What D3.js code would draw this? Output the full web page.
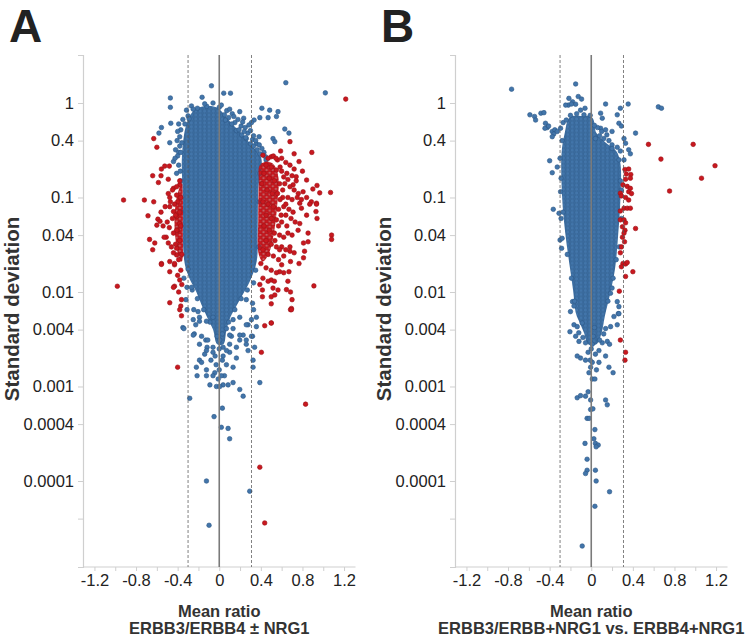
<!DOCTYPE html>
<html>
<head>
<meta charset="utf-8">
<script src="https://cdn.jsdelivr.net/npm/d3@7"></script>
<style>
  body { margin: 0; background: #fff; }
  svg { display: block; font-family: "Liberation Sans", Arial, sans-serif; }
</style>
</head>
<body>
<svg id="chart" width="746" height="637"></svg>
<script>
// ---- axis ticks ----
const xTickValues = [-1.2, -1, -0.8, -0.6, -0.4, -0.2, 0, 0.2, 0.4, 0.6, 0.8, 1, 1.2];
const xTickLabels = {"-1.2": "-1.2", "-0.8": "-0.8", "-0.4": "-0.4", "0": "0", "0.4": "0.4", "0.8": "0.8", "1.2": "1.2"};
const yTickValues = [1, 0.4, 0.1, 0.04, 0.01, 0.004, 0.001, 0.0004, 0.0001, 0.00004];
const yTickLabels = ["1", "0.4", "0.1", "0.04", "0.01", "0.004", "0.001", "0.0004", "0.0001", ""];
const cutoffs = [-0.3, 0.31];

// ---- panel A: mean ratio ERBB3/ERBB4 +- NRG1 ----
// outline of the overplotted part of each cloud, [mean, sd]
const coreBlueA = [[-0.26,0.80],[-0.19,0.90],[-0.10,0.93],[-0.03,0.90],[0.03,0.80],[0.08,0.68],[0.15,0.56],
  [0.22,0.47],[0.29,0.38],[0.36,0.31],[0.40,0.27],[0.41,0.21],[0.38,0.14],[0.37,0.045],[0.36,0.021],
  [0.30,0.0134],[0.24,0.010],[0.17,0.0073],[0.11,0.0055],[0.07,0.004],[0.04,0.0028],[-0.02,0.0028],
  [-0.06,0.004],[-0.12,0.0055],[-0.17,0.0073],[-0.22,0.010],[-0.28,0.0134],[-0.33,0.0194],[-0.35,0.0355],
  [-0.35,0.094],[-0.36,0.25],[-0.34,0.45],[-0.31,0.62]];
const coreRedA = [[0.39,0.22],[0.46,0.24],[0.53,0.22],[0.57,0.16],[0.56,0.09],[0.53,0.045],[0.48,0.026],
  [0.42,0.021],[0.38,0.025],[0.375,0.06],[0.38,0.14]];
const coreRedLeftA = [[-0.36,0.14],[-0.39,0.12],[-0.42,0.085],[-0.43,0.05],[-0.41,0.03],[-0.38,0.022],
  [-0.36,0.021],[-0.35,0.05],[-0.35,0.1]];

const blueA = [
  [-0.075,1.52],[0.043,1.27],[0.108,1.27],[0.64,1.64],[1.02,1.28],[-0.47,1.13],[-0.47,0.90],[-0.165,1.15],
  [-0.315,0.84],[-0.267,0.93],[0.072,0.83],[0.197,0.81],[0.235,0.69],[0.41,0.88],[0.485,0.84],[0.565,0.81],
  [0.55,0.72],[0.47,0.70],[0.39,0.70],[0.335,0.66],[0.31,0.62],[-0.35,0.67],[-0.39,0.60],[-0.466,0.61],
  [-0.556,0.55],[-0.58,0.48],[-0.476,0.38],[-0.405,0.40],[-0.38,0.44],[0.63,0.53],[0.67,0.48],[0.517,0.42],
  [0.534,0.39],[0.383,0.44],[0.357,0.37],[0.32,0.41],[0.26,0.42],[-0.44,0.24],[-0.42,0.32],[-0.39,0.30],
  [-0.41,0.18],[0.05,0.75],[0.09,0.70],[0.125,0.77],[0.15,0.62],[0.18,0.67],[0.21,0.57],[0.225,0.63],
  [0.25,0.55],[0.275,0.48],[0.30,0.51],[0.33,0.45],[0.35,0.40],[0.385,0.36],[0.41,0.33],[0.43,0.30],
  [0.445,0.27],[0.30,0.37],[0.255,0.43],[0.215,0.46],[0.165,0.51],[0.365,0.32],[0.45,0.25],[0.285,0.585],
  [0.14,0.72],[-0.30,0.73],[-0.33,0.60],[-0.37,0.52],[-0.40,0.50],[-0.38,0.35],[-0.40,0.275],[-0.425,0.26],
  [-0.37,0.30],[-0.39,0.22],[-0.375,0.19],[-0.21,0.88],[-0.12,0.92],[0.0,0.90],[-0.06,1.0],[-0.14,0.98],
  [0.02,0.95],[0.1,0.86],[0.06,0.66],[0.12,0.60],[0.19,0.52],[0.24,0.50],[0.33,0.35],[0.39,0.29],
  [-0.25,0.86],[-0.29,0.68],[-0.36,0.38],[-0.37,0.15],[-0.365,0.07],[0.39,0.18],[0.385,0.09],[0.38,0.03],
  // edge of the core and lower tail
  [0.33,0.0125],[0.27,0.0105],[0.21,0.0085],[0.15,0.0065],[0.09,0.0048],[-0.09,0.0048],[-0.15,0.0065],
  [-0.21,0.0085],[-0.26,0.0105],[-0.34,0.014],[-0.3,0.0175],[0.35,0.017],
  [-0.31,0.0112],[-0.267,0.0112],[-0.32,0.0083],[-0.31,0.0065],[-0.245,0.0065],[-0.204,0.0062],[-0.19,0.0054],
  [-0.226,0.0045],[-0.35,0.0042],[-0.24,0.0036],[-0.17,0.0034],[-0.13,0.0031],[-0.19,0.0028],[-0.117,0.0026],
  [0.26,0.0083],[0.32,0.0076],[0.33,0.0065],[0.357,0.0054],[0.31,0.0051],[0.277,0.0045],[0.23,0.0035],
  [0.32,0.0034],[0.197,0.0031],[0.26,0.0028],[0.165,0.0026],[0.117,0.0034],[0.037,0.0026],[0.069,0.0041],
  [0.133,0.0041],[-0.34,0.0041],[-0.25,0.0051],[-0.19,0.0049],[-0.123,0.0049],[-0.06,0.0054],[0.133,0.0051],
  [0.197,0.0054],[0.26,0.0045],[0.357,0.0043],[-0.25,0.0035],[-0.11,0.0031],[-0.06,0.0026],[-0.123,0.0024],
  [0.005,0.0031],[0.10,0.0035],[0.10,0.0028],[0.197,0.0035],[0.26,0.0031],[0.277,0.0024],[0.34,0.0026],
  [0.31,0.0034],[-0.14,0.0022],[-0.06,0.0023],[0.037,0.0021],[0.10,0.0023],[0.165,0.0020],[-0.19,0.0019],
  [-0.17,0.0018],[-0.22,0.0016],[-0.123,0.0015],[-0.043,0.0014],[0.069,0.0017],[0.133,0.0016],[0.325,0.0019],
  [0.325,0.0016],[0.39,0.0011],[-0.01,0.0012],[-0.06,0.0013],[-0.09,0.00104],[0.037,0.00104],[0.085,0.00104],
  [0.133,0.0011],[0.197,0.00093],[0.23,0.00079],[-0.027,0.0010],[0.005,0.0010],[-0.213,0.0013],[-0.123,0.0013],
  [0.0,0.0025],[0.03,0.0019],[-0.03,0.0017],[0.0,0.0015],[0.05,0.0013],[-0.08,0.0019],[0.07,0.0024],
  [-0.02,0.0034],[0.03,0.0036],[-0.04,0.0021],[0.02,0.0013],
  [-0.284,0.00075],[0.03,0.00059],[-0.05,0.00048],[0.02,0.00037],[0.085,0.00036],[0.10,0.00028],
  [-0.123,0.0001],[0.293,0.000078],[-0.098,0.000034]
];

const redA = [
  [1.216,1.10],[-0.63,0.42],[-0.60,0.34],[0.68,0.39],[0.59,0.31],[0.72,0.29],[0.89,0.30],[0.50,0.27],
  [-0.556,0.20],[-0.524,0.215],[-0.48,0.215],[-0.56,0.17],[-0.64,0.17],[-0.585,0.144],[-0.49,0.156],
  [-0.92,0.094],[-0.72,0.094],[-0.63,0.090],[-0.44,0.125],[-0.41,0.106],[-0.476,0.10],[-0.38,0.136],
  [1.07,0.113],[0.94,0.134],[0.90,0.123],[0.966,0.112],[0.806,0.115],[0.84,0.10],[0.886,0.09],[0.935,0.087],
  [0.774,0.087],[0.767,0.24],[0.80,0.19],[0.74,0.166],[0.84,0.153],[0.71,0.136],
  [0.935,0.085],[0.93,0.071],[0.94,0.060],[0.87,0.085],[0.79,0.077],[0.84,0.065],[0.774,0.053],[0.758,0.045],
  [0.854,0.042],[0.81,0.033],[0.854,0.034],[0.82,0.027],[0.81,0.023],[0.767,0.020],[0.68,0.027],[0.685,0.021],
  [0.60,0.0194],[0.58,0.0164],[0.67,0.0164],[0.50,0.0134],[0.517,0.011],[0.565,0.0105],[0.646,0.0106],
  [0.685,0.010],[0.50,0.0089],[0.534,0.0093],[0.415,0.0105],[0.415,0.0089],[0.70,0.0083],[0.694,0.0067],
  [0.685,0.0065],[0.50,0.0075],[0.50,0.0047],[0.437,0.0044],[0.91,0.0116],[1.08,0.040],[1.08,0.036],
  [-0.685,0.064],[-0.59,0.059],[-0.57,0.056],[-0.60,0.051],[-0.67,0.036],[-0.62,0.033],[-0.64,0.028],
  [-0.556,0.020],[-0.476,0.021],[-0.476,0.0164],[-0.43,0.0194],[-0.41,0.0247],[-0.43,0.0115],[-0.38,0.0134],
  [-0.39,0.010],[-0.363,0.0083],[-0.37,0.0071],[-0.38,0.0065],[-0.363,0.0056],[-0.476,0.0077],[-0.98,0.0115],
  [-0.51,0.038],[-0.49,0.033],[-0.46,0.030],[-0.44,0.026],[-0.41,0.029],[-0.476,0.08],[-0.44,0.071],
  [-0.41,0.063],[-0.40,0.045],[-0.38,0.053],[-0.53,0.038],[-0.556,0.0196],[-0.44,0.0112],
  [0.50,0.0047],[0.405,0.0023],[-0.40,0.0016],[0.83,0.00065],[0.39,0.00014],[0.437,0.000036],[0.694,0.0065],
  // right cluster
  [0.42,0.28],[0.47,0.26],[0.52,0.275],[0.56,0.25],[0.60,0.26],[0.64,0.235],[0.68,0.22],[0.72,0.20],
  [0.45,0.22],[0.50,0.21],[0.55,0.195],[0.60,0.19],[0.65,0.18],[0.70,0.17],[0.74,0.15],[0.43,0.18],
  [0.48,0.16],[0.53,0.15],[0.58,0.14],[0.63,0.14],[0.68,0.13],[0.72,0.12],[0.76,0.11],[0.41,0.14],
  [0.46,0.12],[0.51,0.11],[0.56,0.11],[0.61,0.10],[0.66,0.10],[0.70,0.095],[0.75,0.10],[0.79,0.095],
  [0.42,0.09],[0.47,0.085],[0.52,0.08],[0.57,0.075],[0.62,0.08],[0.67,0.075],[0.71,0.07],[0.45,0.065],
  [0.50,0.06],[0.55,0.058],[0.60,0.055],[0.65,0.05],[0.69,0.06],[0.73,0.055],[0.43,0.05],[0.48,0.045],
  [0.53,0.042],[0.58,0.04],[0.62,0.038],[0.66,0.042],[0.70,0.04],[0.45,0.035],[0.50,0.032],[0.55,0.03],
  [0.60,0.03],[0.64,0.028],[0.68,0.03],[0.42,0.028],[0.47,0.025],[0.52,0.024],[0.57,0.022],[0.62,0.024],
  [0.72,0.026],[0.40,0.020],[0.45,0.018],[0.50,0.017],[0.55,0.016],[0.42,0.014],[0.47,0.013],[0.53,0.013],
  [0.62,0.016],[0.66,0.013],[0.39,0.012],[0.585,0.21],[0.62,0.165],[0.61,0.12],[0.64,0.085],[0.585,0.095],
  [0.595,0.065],[0.57,0.05],[0.64,0.065],[0.66,0.155],[0.545,0.26],[0.58,0.028],[0.535,0.035],
  // left strip
  [-0.38,0.15],[-0.41,0.13],[-0.45,0.12],[-0.49,0.11],[-0.37,0.10],[-0.40,0.09],[-0.43,0.085],[-0.47,0.09],
  [-0.52,0.08],[-0.56,0.07],[-0.38,0.07],[-0.42,0.065],[-0.45,0.06],[-0.50,0.055],[-0.54,0.05],[-0.37,0.05],
  [-0.41,0.045],[-0.44,0.042],[-0.48,0.048],[-0.38,0.035],[-0.42,0.032],[-0.36,0.025],[-0.39,0.022],
  [-0.43,0.020],[-0.37,0.017],[-0.40,0.015],[-0.36,0.012]
];

// ---- panel B: ERBB3/ERBB+NRG1 vs. ERBB4+NRG1 ----
const coreBlueB = [[-0.21,0.70],[-0.10,0.73],[0.01,0.70],[0.05,0.48],[0.14,0.38],[0.24,0.31],[0.28,0.23],
  [0.28,0.094],[0.26,0.042],[0.23,0.018],[0.19,0.0105],[0.13,0.0055],[0.10,0.0037],[0.05,0.0028],
  [-0.03,0.0028],[-0.07,0.0037],[-0.11,0.0047],[-0.145,0.0058],[-0.175,0.0105],[-0.205,0.018],[-0.25,0.042],
  [-0.28,0.10],[-0.285,0.30],[-0.255,0.48]];

const blueB = [
  [-0.766,1.40],[-0.59,0.75],[-0.545,0.72],[-0.535,0.66],[-0.484,0.78],[-0.455,0.79],[-0.44,0.61],[-0.423,0.55],
  [-0.445,0.54],[-0.41,0.57],[-0.375,0.50],[-0.35,0.52],[-0.36,0.47],[-0.327,0.50],[-0.375,0.44],[-0.295,0.54],
  [-0.15,1.59],[-0.215,1.12],[-0.18,1.03],[-0.22,0.95],[-0.125,1.17],[-0.093,1.10],[-0.15,0.97],[-0.19,0.975],
  [-0.246,0.95],[-0.06,0.88],[-0.103,0.84],[0.138,0.975],[0.355,0.975],[0.28,0.88],[0.645,0.91],[0.675,0.88],
  [0.09,0.78],[0.106,0.69],[0.25,0.75],[0.266,0.61],[0.29,0.57],[0.09,0.54],[0.138,0.52],[0.20,0.50],
  [0.426,0.48],[0.36,0.32],[0.376,0.29],[0.315,0.42],[0.33,0.375],[0.315,0.25],[0.266,0.25],
  [-0.40,0.245],[-0.375,0.183],[-0.327,0.21],[-0.365,0.075],[-0.31,0.068],[-0.295,0.115],[-0.30,0.0355],
  [-0.285,0.029],[-0.28,0.037],[-0.18,0.0079],[-0.166,0.0071],[-0.20,0.0062],[0.20,0.011],[0.185,0.0097],
  [0.25,0.0079],[0.26,0.0059],[0.266,0.0070],
  [0.08,0.45],[0.12,0.42],[0.17,0.40],[0.20,0.36],[0.25,0.34],[0.28,0.31],[0.10,0.50],[0.06,0.55],[0.15,0.46],
  [-0.27,0.62],[-0.24,0.66],[-0.28,0.40],[-0.30,0.26],[-0.29,0.16],[-0.29,0.06],[0.29,0.06],[0.28,0.15],
  [-0.2,0.74],[-0.14,0.77],[-0.07,0.75],[-0.01,0.74],[0.03,0.58],[0.04,0.42],[0.2,0.33],[0.29,0.12],
  [0.27,0.03],[0.24,0.022],[0.21,0.014],[0.16,0.008],[-0.16,0.008],[-0.19,0.014],[-0.23,0.025],[-0.27,0.07],
  // lower tail
  [-0.205,0.0038],[-0.166,0.0045],[-0.135,0.0043],[-0.087,0.0047],[0.138,0.0041],[0.186,0.0043],[0.25,0.0045],
  [0.266,0.0059],[0.218,0.0055],[-0.15,0.0034],[-0.118,0.0030],[-0.055,0.0029],[0.01,0.0028],[0.106,0.0029],
  [0.154,0.0030],[0.176,0.0028],[0.074,0.0024],[-0.103,0.0020],[-0.135,0.0021],[-0.055,0.0019],[0.01,0.0018],
  [0.074,0.0018],[0.138,0.0021],[0.17,0.0016],[0.21,0.0014],[-0.022,0.0014],[-0.006,0.0016],[0.01,0.0012],
  [0.035,0.0012],[-0.03,0.00088],[-0.055,0.00079],[-0.135,0.00076],[-0.103,0.00080],[-0.006,0.00072],
  [0.138,0.00072],[0.154,0.00064],[-0.006,0.00057],[0.016,0.00058],[-0.04,0.00046],[-0.02,0.00046],
  [0.035,0.00035],[0.025,0.00028],[-0.06,0.00025],[0.04,0.00025],[0.067,0.00024],[0.047,0.00023],
  [-0.04,0.00017],[0.04,0.00013],[-0.04,0.00013],[-0.055,0.00012],[0.047,0.0001],[0.176,0.000077],
  [0.035,0.000054],[-0.087,0.0000205],
  [0.0,0.0025],[0.04,0.0022],[-0.03,0.0023],[0.08,0.0031],[-0.08,0.0033],[0.02,0.0034],[-0.01,0.0019],
  [0.05,0.0015],[0.12,0.0036],[-0.12,0.0037],[0.03,0.0042]
];

const redB = [
  [0.55,0.365],[0.98,0.365],[0.67,0.255],[1.19,0.217],[1.06,0.16],[0.753,0.117],
  [0.324,0.198],[0.36,0.20],[0.337,0.177],[0.38,0.175],[0.376,0.16],[0.33,0.156],[0.305,0.136],[0.346,0.131],
  [0.376,0.125],[0.36,0.115],[0.387,0.11],[0.28,0.111],[0.29,0.104],[0.33,0.10],[0.36,0.094],[0.28,0.072],
  [0.315,0.077],[0.346,0.077],[0.376,0.077],[0.28,0.058],[0.315,0.058],[0.33,0.054],[0.30,0.049],[0.324,0.045],
  [0.426,0.047],[0.315,0.042],[0.30,0.038],[0.32,0.034],[0.29,0.030],[0.28,0.026],[0.305,0.020],[0.33,0.0198],
  [0.346,0.0205],[0.29,0.0185],[0.33,0.0146],[0.40,0.0164],[0.27,0.0102],
  [0.28,0.0031],[0.33,0.0023],[0.324,0.0019]
];

// ---- layout ----
const svg = d3.select("#chart");
const panelW = 372;
const plot = {left: 83, right: 355.5, top: 55, bottom: 567};

const xScale = d3.scaleLinear().domain([-1.31, 1.31]).range([plot.left, plot.right]);
const yScale = d3.scaleLog().domain([1.23e-5, 3.22]).range([plot.bottom, plot.top]);

// overplotted markers rendered as a packed-dot texture
const defs = svg.append("defs");
function dotPattern(id, w, h, r, bg, fill, stroke) {
  const pat = defs.append("pattern").attr("id", id)
    .attr("width", w).attr("height", h).attr("patternUnits", "userSpaceOnUse");
  if (bg) pat.append("rect").attr("width", w).attr("height", h).attr("fill", bg);
  [[0, 0], [w, 0], [0, h], [w, h], [w / 2, h / 2]].forEach(function(c) {
    pat.append("circle").attr("cx", c[0]).attr("cy", c[1]).attr("r", r)
      .attr("fill", fill).attr("stroke", stroke).attr("stroke-width", 0.5);
  });
}
dotPattern("packBlue", 4.4, 3.9, 2.1, "#31618f", "#4275aa", "#2b5886");
dotPattern("packRed", 6.2, 5.4, 2.2, null, "#c8181f", "#9c1016");

const panels = [
  {letter: "A", core: [coreBlueA], redCore: [coreRedA, coreRedLeftA], blue: blueA, red: redA,
   xTitle: "ERBB3/ERBB4 \u00b1 NRG1"},
  {letter: "B", core: [coreBlueB], redCore: [], blue: blueB, red: redB,
   xTitle: "ERBB3/ERBB+NRG1 vs. ERBB4+NRG1"}
];

const outline = d3.line()
  .x(d => xScale(d[0]))
  .y(d => yScale(d[1]))
  .curve(d3.curveCatmullRomClosed.alpha(0.5));

panels.forEach(function(p, i) {
  const g = svg.append("g").attr("transform", "translate(" + (i * panelW) + ",0)");

  // axes
  const xAxis = d3.axisBottom(xScale)
    .tickValues(xTickValues)
    .tickSize(4)
    .tickPadding(3)
    .tickFormat(d => xTickLabels[String(+d.toFixed(1))] || "");
  const gx = g.append("g").attr("transform", "translate(0," + plot.bottom + ")").call(xAxis);

  const yAxis = d3.axisLeft(yScale)
    .tickValues(yTickValues)
    .tickSize(5)
    .tickPadding(4)
    .tickFormat((d, k) => yTickLabels[k]);
  const gy = g.append("g").attr("transform", "translate(" + plot.left + ",0)").call(yAxis);

  [gx, gy].forEach(function(a) {
    a.select(".domain").attr("stroke", "#cfcfcf").attr("stroke-width", 1.2);
    a.selectAll(".tick line").attr("stroke", "#cfcfcf");
    a.selectAll(".tick text").attr("fill", "#222").style("font-size", "16.5px")
      .style("font-family", "'Liberation Sans', Arial, sans-serif");
  });
  gx.select(".domain").attr("d", "M" + plot.left + ",0H" + plot.right);

  // blue cloud
  p.core.forEach(function(c) {
    g.append("path").datum(c).attr("d", outline).attr("fill", "url(#packBlue)");
  });
  g.append("g").selectAll("circle").data(p.blue).join("circle")
    .attr("cx", d => xScale(d[0]))
    .attr("cy", d => yScale(d[1]))
    .attr("r", 2.3)
    .attr("fill", "#4275aa")
    .attr("stroke", "#2b5886")
    .attr("stroke-width", 0.6);

  // red (beyond cut-off) cloud
  p.redCore.forEach(function(c) {
    g.append("path").datum(c).attr("d", outline).attr("fill", "url(#packRed)");
  });
  g.append("g").selectAll("circle").data(p.red).join("circle")
    .attr("cx", d => xScale(d[0]))
    .attr("cy", d => yScale(d[1]))
    .attr("r", 2.3)
    .attr("fill", "#c8181f")
    .attr("stroke", "#9c1016")
    .attr("stroke-width", 0.6);

  // reference lines
  g.append("line")
    .attr("x1", xScale(0)).attr("x2", xScale(0))
    .attr("y1", plot.top).attr("y2", plot.bottom)
    .attr("stroke", "#7a7a7a").attr("stroke-width", 1.6);
  g.selectAll(".cut").data(cutoffs).join("line")
    .attr("class", "cut")
    .attr("x1", d => xScale(d)).attr("x2", d => xScale(d))
    .attr("y1", plot.top).attr("y2", plot.bottom)
    .attr("stroke", "#555").attr("stroke-width", 1)
    .attr("stroke-opacity", 0.75)
    .attr("stroke-dasharray", "3,2");

  // titles
  g.append("text")
    .attr("x", 9).attr("y", 42)
    .attr("font-size", 46).attr("font-weight", "bold").attr("fill", "#222")
    .text(p.letter);

  g.append("text")
    .attr("transform", "translate(19,309) rotate(-90)")
    .attr("text-anchor", "middle")
    .attr("font-size", 20.5).attr("font-weight", "bold").attr("fill", "#333")
    .text("Standard deviation");

  g.append("text")
    .attr("x", xScale(0)).attr("y", 617)
    .attr("text-anchor", "middle")
    .attr("font-size", 16.5).attr("font-weight", "bold").attr("fill", "#333")
    .text("Mean ratio");
  g.append("text")
    .attr("x", xScale(0)).attr("y", 634)
    .attr("text-anchor", "middle")
    .attr("font-size", 16.5).attr("font-weight", "bold").attr("fill", "#333")
    .text(p.xTitle);
});
</script>
</body>
</html>
